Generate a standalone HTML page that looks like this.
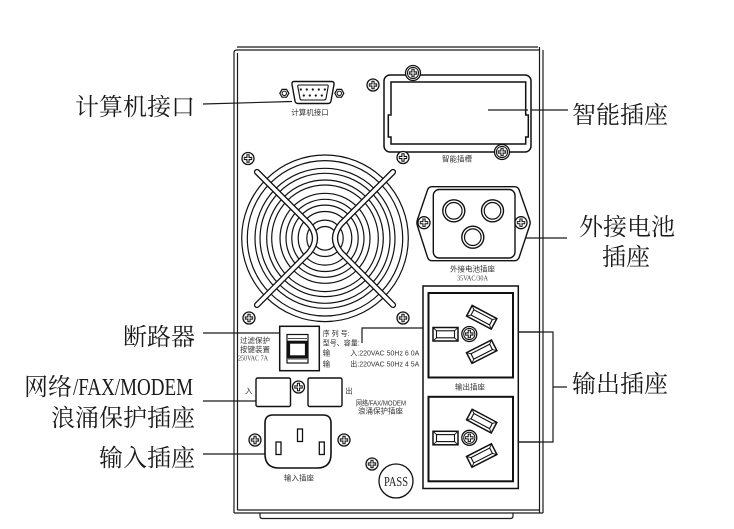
<!DOCTYPE html>
<html><head><meta charset="utf-8"><style>
html,body{margin:0;padding:0;background:#fff;}
svg{display:block;}
.big{font-family:"Liberation Serif","Noto Serif CJK SC",serif;font-size:24px;fill:#1a1a1a;}
.sm{font-family:"Liberation Sans","Noto Sans CJK SC",sans-serif;font-size:7.5px;fill:#333;}
</style></head><body>
<svg width="734" height="529" viewBox="0 0 734 529" xmlns="http://www.w3.org/2000/svg">
<defs>
 <g id="s">
  <circle r="6" fill="#fff" stroke="#111" stroke-width="1.3"/>
  <path d="M-4.2,0H4.2M0,-4.2V4.2" stroke="#111" stroke-width="3.2"/>
  <path d="M-3.3,0H3.3M0,-3.3V3.3" stroke="#fff" stroke-width="1.1"/>
 </g>
 <g id="S">
  <circle r="7.5" fill="#fff" stroke="#111" stroke-width="1.3"/>
  <circle r="5.6" fill="#fff" stroke="#111" stroke-width="1"/>
  <path d="M-4.2,0H4.2M0,-4.2V4.2" stroke="#111" stroke-width="3.2"/>
  <path d="M-3.3,0H3.3M0,-3.3V3.3" stroke="#fff" stroke-width="1.1"/>
 </g>
 <g id="slot" fill="#fff" stroke="#111">
  <rect x="-14" y="-6" width="28" height="12" stroke-width="1.5"/>
  <rect x="-10.5" y="-3" width="21" height="6" stroke-width="1.1"/>
  <path d="M-14,-6L-10.5,-3M14,-6L10.5,-3M-14,6L-10.5,3M14,6L10.5,3" stroke-width="0.9"/>
 </g>
 <g id="hex">
  <polygon points="4.5,0 2.25,3.9 -2.25,3.9 -4.5,0 -2.25,-3.9 2.25,-3.9" fill="#fff" stroke="#111" stroke-width="1.2"/>
  <circle r="2.2" fill="none" stroke="#111" stroke-width="1"/>
 </g>
 <g id="sock">
  <rect x="428.5" y="293" width="84.5" height="84.5" fill="none" stroke="#111" stroke-width="2"/>
  <rect x="433" y="327.5" width="25" height="13.5" fill="#fff" stroke="#111" stroke-width="1.5"/>
  <rect x="436.5" y="330.8" width="18" height="7" fill="none" stroke="#111" stroke-width="1.1"/>
  <path d="M433,327.5L436.5,330.8M458,327.5L454.5,330.8M433,341L436.5,337.8M458,341L454.5,337.8" stroke="#111" stroke-width="0.9"/>
  <use href="#S" x="469.3" y="334"/>
  <use href="#slot" transform="translate(481.7,317.3) rotate(28)"/>
  <use href="#slot" transform="translate(481.7,351.7) rotate(-27)"/>
 </g>
</defs>

<g fill="none" stroke="#1a1a1a" stroke-width="1.2">
 <path d="M237,47H538"/>
 <path d="M234,513V53Q234,50 237,50H539.5"/>
 <path d="M237.5,510V53"/>
 <path d="M539.5,47V513M543,50V513"/>
 <path d="M234,513H543M237.5,510H539.5" />
 <path d="M260,513V516Q260,518.5 262.5,518.5H510.5Q513,518.5 513,516V513"/>

 <path d="M203,104L292,101.5"/>
 <path d="M203,333H280"/>
 <path d="M203,401H256"/>
 <path d="M203,454H265"/>
 <path d="M488,110H568"/>
 <path d="M517,238H567"/>
 <path d="M518,332H553V442H518M553,387H567"/>
 <path d="M362,343V328H423"/>
</g>

<!-- DB9 -->
<use href="#hex" x="284.3" y="93.3"/>
<use href="#hex" x="339.3" y="93.3"/>
<path d="M294,81.5H331.5Q334.5,81.5 334,84.5L331,101Q330.5,103.5 328,103.5H298Q295.5,103.5 295,101L292,84.5Q291.5,81.5 294,81.5Z" fill="#fff" stroke="#111" stroke-width="1.4"/>
<path d="M299,85H327Q328.5,85 328.2,86.5L326,98.5Q325.7,100 324.2,100H301.8Q300.3,100 300,98.5L297.8,86.5Q297.5,85 299,85Z" fill="none" stroke="#111" stroke-width="1.1"/>
<g fill="#111">
 <circle cx="300.8" cy="89.5" r="1.1"/><circle cx="306.8" cy="89.5" r="1.1"/><circle cx="312.8" cy="89.5" r="1.1"/><circle cx="318.8" cy="89.5" r="1.1"/><circle cx="324.8" cy="89.5" r="1.1"/>
 <circle cx="303.8" cy="95.5" r="1.1"/><circle cx="309.8" cy="95.5" r="1.1"/><circle cx="315.8" cy="95.5" r="1.1"/><circle cx="321.8" cy="95.5" r="1.1"/>
</g>
<text class="sm" x="310" y="115" text-anchor="middle">计算机接口</text>

<!-- smart slot -->
<rect x="384" y="75" width="147" height="77" rx="6" fill="#fff" stroke="#111" stroke-width="1.5"/>
<path d="M391,82H525.7V115H528.3V137H525.7V144H391V137H388.3V115H391Z" fill="none" stroke="#111" stroke-width="1.5"/>
<use href="#S" x="413" y="73"/>
<use href="#s" x="373" y="85"/>
<use href="#s" x="403" y="157.5"/>
<use href="#S" x="502" y="152"/>
<text class="sm" x="457" y="161.5" text-anchor="middle">智能插槽</text>
<path d="M488,110H528" stroke="#1a1a1a" stroke-width="1.2"/>

<!-- fan -->
<g fill="none">
 <g stroke="#111">
  <circle cx="325" cy="238.3" r="80.5" stroke-width="6.8"/>
  <circle cx="325" cy="238.3" r="67.5" stroke-width="6.2"/>
  <circle cx="325" cy="238.3" r="55.8" stroke-width="6.2"/>
  <circle cx="325" cy="238.3" r="42" stroke-width="7.2"/>
  <circle cx="325" cy="238.3" r="30" stroke-width="7.6"/>
  <circle cx="325" cy="238.3" r="15" stroke-width="7.6"/>
 </g>
 <g stroke="#fff">
  <circle cx="325" cy="238.3" r="80.5" stroke-width="4.4"/>
  <circle cx="325" cy="238.3" r="67.5" stroke-width="3.8"/>
  <circle cx="325" cy="238.3" r="55.8" stroke-width="3.8"/>
  <circle cx="325" cy="238.3" r="42" stroke-width="4.8"/>
  <circle cx="325" cy="238.3" r="30" stroke-width="5.2"/>
  <circle cx="325" cy="238.3" r="15" stroke-width="5.2"/>
 </g>
 <g stroke-linecap="round" stroke-linejoin="round">
  <path d="M257,172L309,224Q321,238.3 309,252.6L257,305" stroke="#111" stroke-width="6.2"/>
  <path d="M393,172L341,224Q329,238.3 341,252.6L393,305" stroke="#111" stroke-width="6.2"/>
  <path d="M257,172L309,224Q321,238.3 309,252.6L257,305" stroke="#fff" stroke-width="3.6"/>
  <path d="M393,172L341,224Q329,238.3 341,252.6L393,305" stroke="#fff" stroke-width="3.6"/>
 </g>
</g>
<use href="#s" x="248" y="158.5"/>
<use href="#s" x="249" y="318"/>
<use href="#s" x="403" y="318"/>

<!-- battery socket -->
<path d="M432,186.7H514.5Q517.5,186.7 519,189.5L529.5,219.5Q530.8,222.7 529.5,226L519,257.8Q517.5,260.7 514.5,260.7H432Q429,260.7 427.7,257.8L417.5,226Q416.3,222.7 417.5,219.5L427.7,189.5Q429,186.7 432,186.7Z" fill="#fff" stroke="#111" stroke-width="1.4"/>
<rect x="433.3" y="189.5" width="81.7" height="68.5" rx="6" fill="none" stroke="#111" stroke-width="1.4"/>
<g fill="none" stroke="#111">
 <circle cx="453.8" cy="210.8" r="11" stroke-width="1.4"/><circle cx="453.8" cy="210.8" r="8.3" stroke-width="1.2"/>
 <circle cx="492.5" cy="210.8" r="11" stroke-width="1.4"/><circle cx="492.5" cy="210.8" r="8.3" stroke-width="1.2"/>
 <circle cx="472.8" cy="237.2" r="11" stroke-width="1.4"/><circle cx="472.8" cy="237.2" r="8.3" stroke-width="1.2"/>
</g>
<use href="#s" x="424" y="222.7"/>
<use href="#s" x="521" y="222.7"/>
<text class="sm" x="472.5" y="271.5" text-anchor="middle">外接电池插座</text>
<text x="472.5" y="280.5" text-anchor="middle" font-family="Liberation Serif,serif" font-size="7" fill="#444" textLength="31" lengthAdjust="spacingAndGlyphs">35VAC/30A</text>

<!-- output sockets -->
<rect x="423" y="286" width="95.3" height="202.5" fill="#fff" stroke="#111" stroke-width="1.5"/>
<use href="#sock"/>
<use href="#sock" transform="translate(0,103.8)"/>
<text class="sm" x="470" y="389.5" text-anchor="middle">输出插座</text>
<path d="M518,332H539.5M518,442H539.5" stroke="#1a1a1a" stroke-width="1.2"/>

<!-- breaker -->
<text class="sm" x="240" y="343">过滤保护</text>
<text class="sm" x="240" y="352">按键装置</text>
<text x="238" y="360.3" font-family="Liberation Serif,serif" font-size="7" fill="#444" textLength="30" lengthAdjust="spacingAndGlyphs">250VAC 7A</text>
<rect x="279.7" y="326.3" width="39.6" height="44.4" fill="#fff" stroke="#111" stroke-width="1.5"/>
<rect x="287" y="334.5" width="21" height="28.5" fill="none" stroke="#111" stroke-width="1.2"/>
<path d="M288,338.5H307M288,359H307" stroke="#111" stroke-width="0.8"/>
<rect x="288.6" y="342.2" width="17.8" height="14.6" fill="#fff" stroke="#111" stroke-width="3"/>

<!-- spec text -->
<g font-family="Liberation Sans,'Noto Sans CJK SC',sans-serif" font-size="7.5" fill="#333">
 <text x="322.7" y="336" textLength="27" lengthAdjust="spacingAndGlyphs">序 列 号:</text>
 <text x="322.7" y="345.5" textLength="37" lengthAdjust="spacingAndGlyphs">型号、容量:</text>
 <text x="322.7" y="355.5">输</text>
 <text x="350.3" y="355.5" textLength="69" lengthAdjust="spacingAndGlyphs">入:220VAC 50Hz 6 0A</text>
 <text x="322.7" y="366.5">输</text>
 <text x="350.3" y="366.5" textLength="69" lengthAdjust="spacingAndGlyphs">出:220VAC 50Hz 4 5A</text>
</g>

<!-- network jacks -->
<rect x="256" y="378" width="34.5" height="28.5" rx="1.5" fill="#fff" stroke="#111" stroke-width="1.4"/>
<rect x="308" y="378" width="34" height="28.5" rx="1.5" fill="#fff" stroke="#111" stroke-width="1.4"/>
<use href="#s" x="298.5" y="387"/>
<text class="sm" x="248.7" y="393.5" text-anchor="middle">入</text>
<text class="sm" x="349" y="393.5" text-anchor="middle">出</text>
<text class="sm" x="381" y="405.5" text-anchor="middle" textLength="50" lengthAdjust="spacingAndGlyphs" font-size="7">网络/FAX/MODEM</text>
<text class="sm" x="380.5" y="413.5" text-anchor="middle" font-size="7.2">浪涌保护插座</text>

<!-- IEC inlet -->
<path d="M273,415H323Q331,415 331,423V454Q331,468 317,468H279Q265,468 265,454V423Q265,415 273,415Z" fill="#fff" stroke="#111" stroke-width="1.6"/>
<g fill="#fff" stroke="#111" stroke-width="1.3">
 <rect x="297.5" y="429" width="5" height="12.5"/>
 <rect x="276" y="442" width="5" height="12.5"/>
 <rect x="319.3" y="442" width="5" height="12.5"/>
</g>
<use href="#s" x="255" y="440"/>
<use href="#s" x="344" y="440"/>
<text class="sm" x="299" y="480.5" text-anchor="middle">输入插座</text>

<!-- PASS -->
<use href="#s" x="372" y="464"/>
<circle cx="396" cy="481" r="17" fill="#fff" stroke="#111" stroke-width="1.3"/>
<text x="396" y="486" text-anchor="middle" font-family="Liberation Serif,serif" font-size="14" fill="#222" textLength="24" lengthAdjust="spacingAndGlyphs">PASS</text>

<!-- big labels -->
<text class="big" x="195" y="115" text-anchor="end">计算机接口</text>
<text class="big" x="195" y="345" text-anchor="end">断路器</text>
<text class="big" x="24" y="395">网络</text>
<text x="73" y="395" font-family="Liberation Serif,serif" font-size="24" fill="#1a1a1a" textLength="120" lengthAdjust="spacingAndGlyphs">/FAX/MODEM</text>
<text class="big" x="195" y="426" text-anchor="end">浪涌保护插座</text>
<text class="big" x="195" y="466" text-anchor="end">输入插座</text>
<text class="big" x="572" y="123">智能插座</text>
<text class="big" x="579" y="235">外接电池</text>
<text class="big" x="602" y="265">插座</text>
<text class="big" x="572" y="392">输出插座</text>
</svg>
</body></html>
